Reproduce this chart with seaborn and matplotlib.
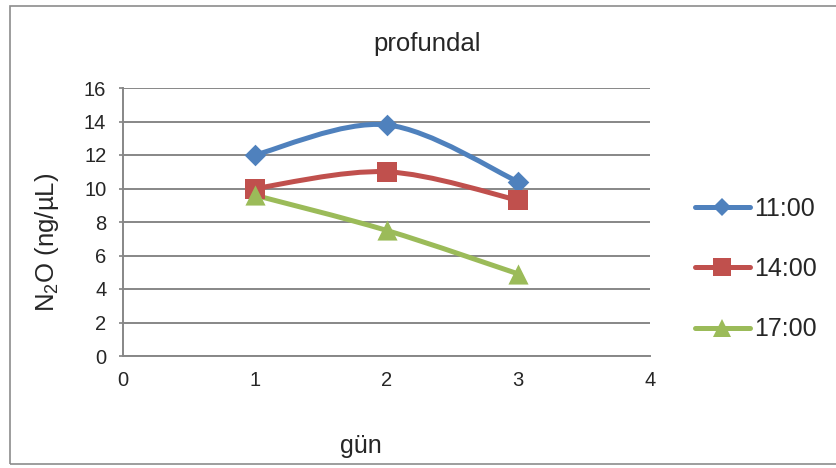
import numpy as np
import pandas as pd
import matplotlib
matplotlib.use("Agg")
import matplotlib.pyplot as plt
import seaborn as sns
from matplotlib.path import Path
from matplotlib.patches import PathPatch, Rectangle
from matplotlib.lines import Line2D

days = [1, 2, 3]
series_names = ["11:00", "14:00", "17:00"]
v_1100 = [12.0, 13.8, 10.4]
v_1400 = [10.0, 11.0, 9.3]
v_1700 = [9.6, 7.5, 4.9]
x_ticks = [0, 1, 2, 3, 4]
y_ticks = [0, 2, 4, 6, 8, 10, 12, 14, 16]

colors = ["#4F81BD", "#C0504D", "#9BBB59"]
markers = ["D", "s", "^"]
msizes = [11, 14, 14.5]
leg_msizes = [9, 12.5, 13]

df = pd.DataFrame({
    "gün": days * 3,
    "value": v_1100 + v_1400 + v_1700,
    "series": [s for s in series_names for _ in days],
})

sns.set_theme(style="white")
plt.rcParams["font.family"] = ["Liberation Sans", "DejaVu Sans"]
plt.rcParams["mathtext.fontset"] = "custom"
plt.rcParams["mathtext.rm"] = "Liberation Sans"
plt.rcParams["mathtext.it"] = "Liberation Sans"

fig = plt.figure(figsize=(8.37, 4.68), dpi=100)
ax = fig.add_axes([123/837, 1-356/468, (650-123)/837, (356-88)/468])

def smooth_path(xs, ys):
    P = np.column_stack([xs, ys]).astype(float)
    n = len(P)
    verts = [P[0]]
    codes = [Path.MOVETO]
    for i in range(n-1):
        p0 = P[i-1] if i > 0 else P[i]
        p1 = P[i]
        p2 = P[i+1]
        p3 = P[i+2] if i+2 < n else P[i+1]
        c1 = p1 + (p2 - p0) / 6.0
        c2 = p2 - (p3 - p1) / 6.0
        verts += [c1, c2, p2]
        codes += [Path.CURVE4]*3
    return Path(verts, codes)

handles = []
for name, col, mk, ms, lms in zip(series_names, colors, markers, msizes, leg_msizes):
    sub = df[df["series"] == name]
    patch = PathPatch(smooth_path(sub["gün"].values, sub["value"].values),
                      facecolor="none", edgecolor=col, lw=3.6, capstyle="round", zorder=3)
    ax.add_patch(patch)
    sns.scatterplot(data=sub, x="gün", y="value", marker=mk, color=col, s=ms**2,
                    edgecolor=col, linewidth=0, ax=ax, zorder=4, legend=False)
    handles.append(Line2D([0], [0], color=col, lw=3.6, marker=mk, markersize=lms,
                          markeredgewidth=0, solid_capstyle="round"))

ax.set_xlim(0, 4)
ax.set_ylim(0, 16)
ax.set_xticks(x_ticks)
ax.set_yticks(y_ticks)
ax.set_xticklabels([str(t) for t in x_ticks], fontsize=14.5)
ax.set_yticklabels([str(t) for t in y_ticks], fontsize=14.5)
ax.yaxis.grid(True, color="#878787", lw=1.4)
ax.xaxis.grid(False)
for s in ["top", "right"]:
    ax.spines[s].set_visible(False)
ax.spines["left"].set_color("#878787")
ax.spines["bottom"].set_color("#878787")
ax.spines["left"].set_linewidth(1.4)
ax.spines["bottom"].set_linewidth(1.4)
ax.tick_params(axis="y", length=3, color="#878787", pad=9, left=True)
ax.tick_params(axis="x", length=0, pad=11)
ax.set_xlabel("")
ax.set_ylabel("")

fig.text(47/837, 1-242/468, "N$_2$O (ng/µL)", rotation=90, ha="center", va="center", fontsize=18.5)
fig.text(427/837, 1-44/468, "profundal", ha="center", va="center", fontsize=18.5)
fig.text(361/837, 1-446/468, "gün", ha="center", va="center", fontsize=18)

fig.legend(handles, series_names, loc="center left", bbox_to_anchor=(695/837, 1-269/468),
           frameon=False, fontsize=18, handlelength=2.2, handletextpad=0.15,
           labelspacing=1.45, borderpad=0, borderaxespad=0)

fig.patches.append(Rectangle((10/837, 4/468), 1.0, 458/468, transform=fig.transFigure,
                             fill=False, edgecolor="#8C8C8C", lw=1.2))

fig.savefig("out.png", dpi=100)
